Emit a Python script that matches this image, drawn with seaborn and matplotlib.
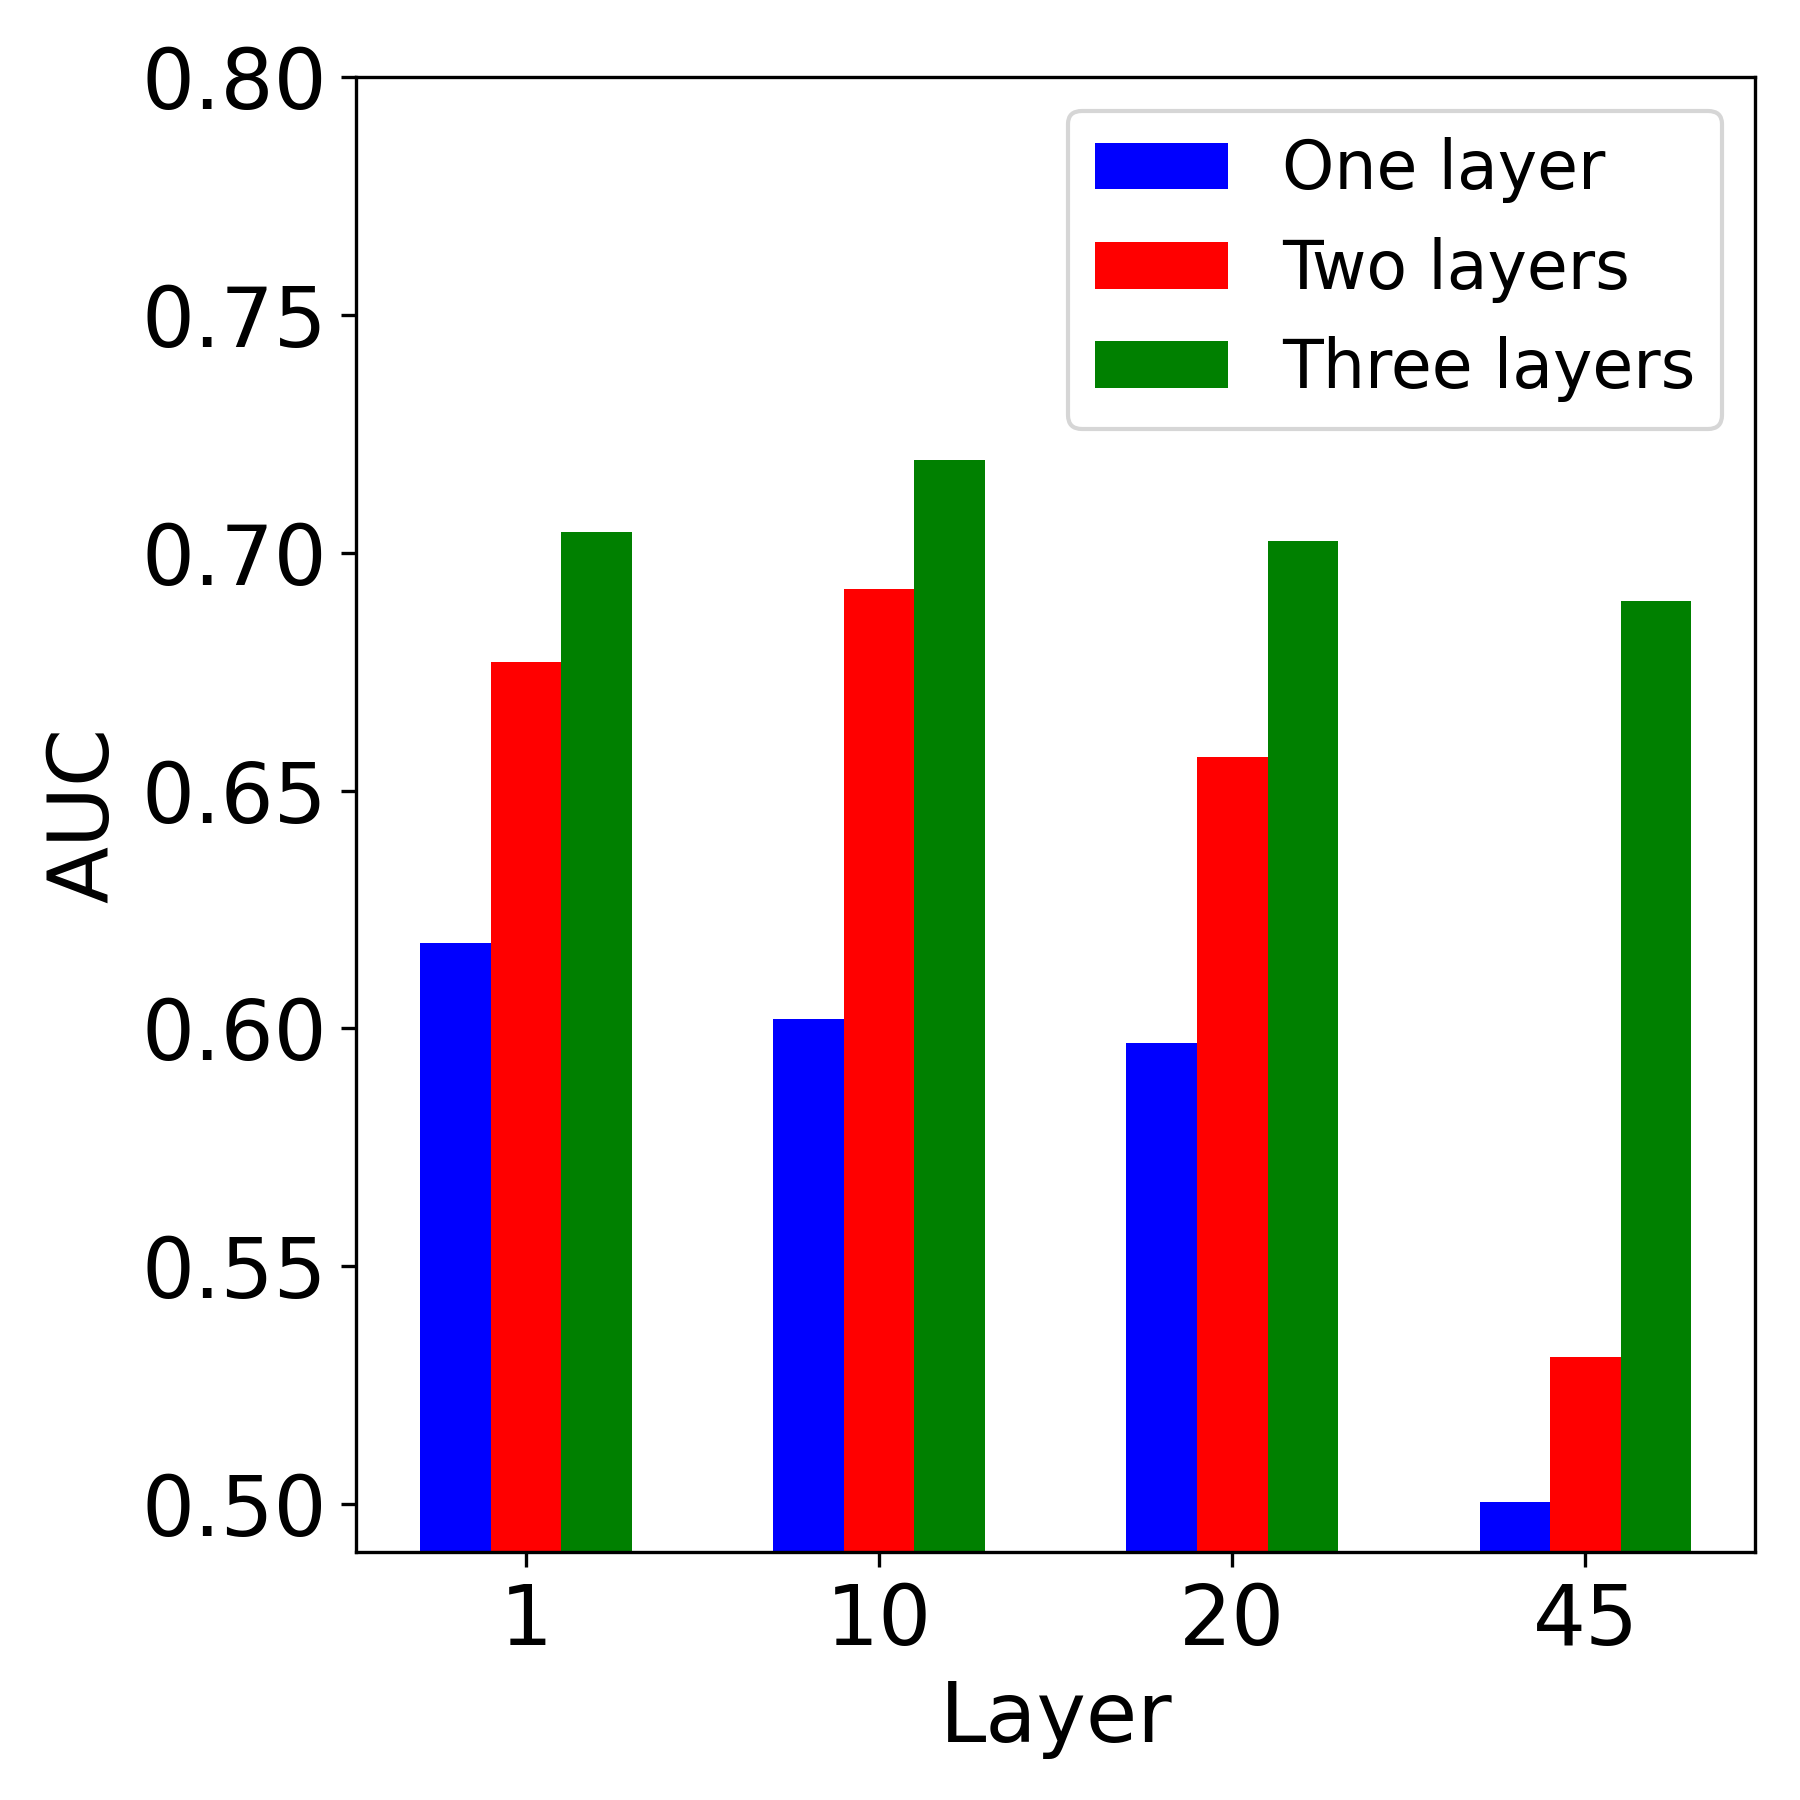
import matplotlib
matplotlib.use("Agg")
import matplotlib.pyplot as plt
import pandas as pd
import seaborn as sns

# data
layers = ["1", "10", "20", "45"]
one_layer = [0.618, 0.602, 0.597, 0.5005]
two_layers = [0.677, 0.6925, 0.657, 0.531]
three_layers = [0.7045, 0.7195, 0.7025, 0.690]
series_names = ["One layer", "Two layers", "Three layers"]
colors = ["blue", "red", "green"]

df = pd.DataFrame({
    "Layer": layers * 3,
    "AUC": one_layer + two_layers + three_layers,
    "Model": [n for n in series_names for _ in layers],
})

fig, ax = plt.subplots(figsize=(6, 6), dpi=300)
fig.subplots_adjust(left=0.198, right=0.975, top=0.957, bottom=0.138)

sns.barplot(data=df, x="Layer", y="AUC", hue="Model", order=layers,
            hue_order=series_names, palette=colors, saturation=1,
            width=0.6, errorbar=None, ax=ax)

ax.set_xlim(-0.48, 3.48)
ax.set_ylim(0.49, 0.80)
ax.set_yticks([0.50, 0.55, 0.60, 0.65, 0.70, 0.75, 0.80])
ax.set_xlabel("Layer", fontsize=20)
ax.set_ylabel("AUC", fontsize=20)
ax.tick_params(labelsize=20)

ax.legend(loc="upper right", fontsize=16, title=None)

fig.savefig("out.png", dpi=300)
